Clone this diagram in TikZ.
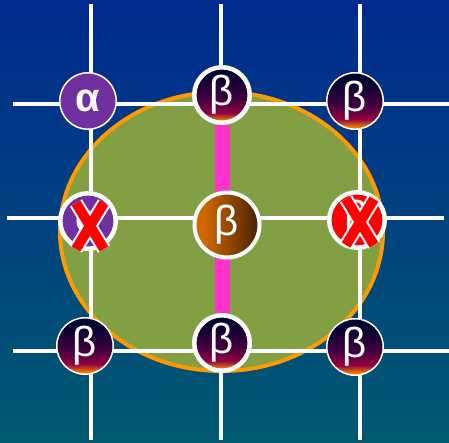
\documentclass[tikz,border=0pt]{standalone}
\usepackage{fontspec}
\setmainfont{Liberation Sans}
\usetikzlibrary{positioning}
\definecolor{bgtop}{HTML}{002A8F}
\definecolor{bgbot}{HTML}{005A70}
\definecolor{leaf}{HTML}{82A043}
\definecolor{rim}{HTML}{FF9900}
\definecolor{pinkbar}{HTML}{FF33CC}
\definecolor{alphapurple}{HTML}{7030A0}
\definecolor{xred}{HTML}{FF0000}
\definecolor{betanavy}{HTML}{000030}
\definecolor{betaplum}{HTML}{40003F}
\definecolor{betamaroon}{HTML}{900040}
\definecolor{betaamber}{HTML}{F08000}
\definecolor{coreorange}{HTML}{D06800}
\definecolor{corebrown}{HTML}{4A2000}
\pgfdeclareverticalshading{betashade}{100bp}{color(0bp)=(betaamber); color(27bp)=(betaamber);
  color(34bp)=(betamaroon); color(47bp)=(betaplum); color(68bp)=(betanavy); color(100bp)=(betanavy)}
\pgfdeclarehorizontalshading{coreshade}{100bp}{color(0bp)=(coreorange); color(32bp)=(coreorange);
  color(75bp)=(corebrown); color(100bp)=(corebrown)}
\tikzset{
  gridline/.style={white,line width=3.5pt},
  greek/.style={circle,inner sep=0pt,text=white,font=\fontsize{42}{42}\selectfont},
  thinrim/.style={draw=white,line width=1.5pt,minimum size=56.5pt},
  thickrim/.style={draw=white,line width=4.5pt,minimum size=55.5pt},
  betanode/.style={greek,shading=betashade},
  alphanode/.style={greek,fill=alphapurple,font=\fontsize{40}{40}\selectfont\bfseries},
  corenode/.style={greek,thickrim,minimum size=65pt,line width=4pt,shading=coreshade},
  xunder/.style={white,line width=14pt},
  xover/.style={xred,line width=10pt}
}
\begin{document}
\begin{tikzpicture}[x=1pt,y=-1pt]
  % backdrop and leaf-shaped patch
  \shade[top color=bgtop,bottom color=bgbot] (0,0) rectangle (449,443);
  \useasboundingbox (0,0) rectangle (449,443);
  \draw[rim,fill=leaf,line width=4pt] (221.5,231.5) ellipse [x radius=161.5,y radius=139.5];

  % grid
  \foreach \gx in {91,221,360} {
    \draw[gridline] (\gx,4) -- (\gx,440);
  }
  \foreach \gy/\ga/\gb in {104/13/449,218/7/444,351/13/449} {
    \draw[gridline] (\ga,\gy) -- (\gb,\gy);
  }

  % sites
  \node[alphanode,thinrim] (alphatl) at (88,101) {α};
  \node[betanode,thickrim] (betatop) at (222,95) {β};
  \node[betanode,thinrim] (betatr) at (355,101) {β};
  \node[alphanode,thickrim] (killl) at (88,221) {α};
  \node[greek,thickrim,fill=xred] (killr) at (357,220) {β};
  \node[betanode,thinrim] (betabl) at (85,346) {β};
  \node[betanode,thickrim] (betabot) at (222,343) {β};
  \node[betanode,thinrim] (betabr) at (355,347) {β};

  % bond
  \draw[pinkbar,line width=15pt] (betatop.south) -- (betabot.north);
  \node[corenode] (core) at (227,225) {β};

  % crossed-out sites
  \foreach \site/\dx/\dy in {killl/2/5,killr/3/2} {
    \draw[xunder] (\site) ++(\dx,\dy) +(-14,-23) -- +(14,23) +(14,-23) -- +(-14,23);
    \draw[xover] (\site) ++(\dx,\dy) +(-14,-23) -- +(14,23) +(14,-23) -- +(-14,23);
  }
\end{tikzpicture}
\end{document}
